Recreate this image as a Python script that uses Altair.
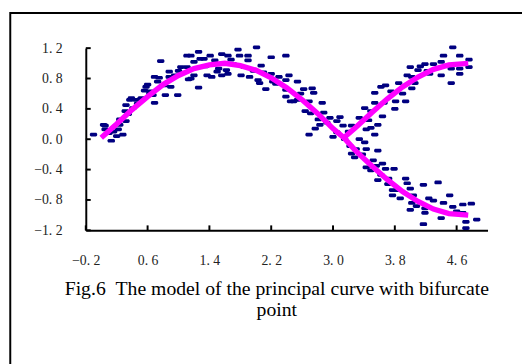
import altair as alt
import pandas as pd

# scatter points
pts_x = [-0.10,0.03,0.05,0.13,0.20,0.28,0.22,0.24,0.32,0.24,0.31,0.32,0.37,0.41,0.45,0.51,0.58,0.63,0.67,0.69,
         0.69,0.77,0.73,0.82,0.83,0.88,0.88,0.90,0.99,1.03,1.05,1.11,1.13,0.05,0.16,0.39,0.52,0.63,0.10,0.35,
         0.47,0.56,0.60,0.75,0.95,1.00,
         1.26,1.16,1.20,1.28,1.41,1.56,1.64,1.77,2.01,1.79,1.90,1.90,2.20,2.39,1.11,1.20,1.16,1.26,1.37,1.43,
         1.52,1.50,1.62,1.64,1.56,1.81,1.92,2.03,2.05,2.13,2.07,2.20,2.22,2.30,2.39,2.39,2.39,2.45,2.43,1.33,
         1.71,1.47,1.35,1.58,1.85,1.97,2.10,2.26,1.68,
         2.54,2.62,2.73,2.75,2.54,2.49,2.69,2.86,2.64,2.71,2.88,2.81,2.83,2.77,2.69,2.92,3.09,3.05,3.13,3.24,
         3.00,3.05,3.15,3.22,3.24,3.28,3.34,3.41,3.43,3.34,3.41,3.43,3.49,3.54,3.58,3.49,3.54,3.64,3.66,3.54,
         3.62,3.68,3.75,3.58,3.43,3.49,3.56,3.64,3.68,3.58,3.71,3.77,3.77,3.30,2.58,2.96,3.20,3.38,3.46,3.62,
         3.52,
         4.55,4.43,4.64,4.76,4.19,4.30,4.40,4.13,4.00,4.10,4.53,4.64,4.76,4.40,4.64,4.53,3.96,4.02,3.85,4.06,
         4.02,3.94,3.81,3.80,4.25,3.90,4.22,4.47,4.70,
         3.79,3.94,3.96,4.00,3.83,3.87,4.17,4.36,4.04,4.02,4.00,4.24,4.30,4.19,4.19,4.43,4.51,4.55,4.68,4.79,
         4.68,4.40,4.17,4.72,4.72,4.86,4.60,4.08,3.72]
pts_y = [0.06,0.19,0.13,-0.02,0.04,0.06,0.13,0.19,0.24,0.26,0.37,0.45,0.52,0.41,0.52,0.53,0.69,0.63,0.58,0.48,
         0.82,1.03,0.76,0.71,0.58,0.89,0.82,0.69,0.58,0.95,0.87,1.10,0.79,0.18,0.10,0.54,0.54,0.60,0.08,0.33,
         0.47,0.64,0.72,0.81,0.84,0.90,
         1.15,1.10,1.02,1.06,1.10,1.12,1.10,1.18,1.21,1.10,1.10,1.04,1.08,1.10,0.95,0.84,0.80,0.68,0.84,0.82,
         0.93,0.89,0.91,0.86,0.84,0.84,0.82,0.78,0.74,0.66,0.97,0.86,0.76,0.82,0.78,0.65,0.56,0.50,0.84,1.06,
         0.99,1.04,0.96,1.00,0.95,0.90,0.88,0.73,1.05,
         0.76,0.66,0.67,0.61,0.52,0.50,0.50,0.48,0.37,0.34,0.35,0.26,0.19,0.14,0.06,0.22,0.29,0.24,0.18,0.18,
         0.03,0.09,0.00,-0.09,-0.19,-0.24,0.00,-0.04,-0.13,0.28,0.41,0.13,0.15,0.06,0.19,0.37,0.48,0.30,0.48,0.61,
         0.69,0.71,0.63,-0.15,-0.37,-0.41,-0.35,-0.32,-0.39,-0.54,-0.59,-0.67,-0.74,-0.13,0.60,0.28,0.10,-0.20,0.25,-0.47,
         -0.28,
         1.21,1.10,1.10,1.05,0.99,0.99,1.02,0.96,0.95,0.91,0.93,0.93,0.95,0.84,0.86,0.74,0.84,0.82,0.74,0.74,
         0.67,0.50,0.50,0.40,0.86,0.60,0.90,0.97,0.99,
         -0.39,-0.52,-0.58,-0.65,-0.67,-0.78,-0.60,-0.57,-0.74,-0.84,-0.93,-0.78,-0.81,-0.91,-0.97,-0.84,-0.74,-0.89,-0.86,-0.85,
         -0.97,-1.04,-1.12,-1.09,-1.17,-1.06,-0.95,-0.88,-0.52]

# principal curve
main_x = [0.0,0.2,0.4,0.6,0.8,1.0,1.2,1.4,1.6,1.8,2.0,2.2,2.4,2.6,2.8,3.0,3.14,3.3,3.5,3.7,3.9,4.1,4.3,4.5,4.75]
main_y = [0.02,0.2,0.39,0.56,0.72,0.84,0.93,0.98,1.0,0.97,0.91,0.81,0.68,0.52,0.34,0.14,0.02,-0.16,-0.35,-0.53,-0.69,-0.82,-0.92,-0.98,-1.0]
branch_x = [3.14,3.3,3.5,3.7,3.9,4.1,4.3,4.5,4.75]
branch_y = [0.02,0.16,0.35,0.53,0.69,0.82,0.92,0.98,1.0]

x_ticks = [-0.2,0.6,1.4,2.2,3.0,3.8,4.6]
y_ticks = [-1.2,-0.8,-0.4,0.0,0.4,0.8,1.2]
caption = "Fig.6\u00a0\u00a0The model of the principal curve with bifurcate\npoint"

W, H = 408, 185
label_expr = "replace(format(datum.value, '.1f'), '.', '. ')"
xscale = alt.Scale(domain=[-0.2, 5.0], nice=False, zero=False)
yscale = alt.Scale(domain=[-1.2, 1.2], nice=False, zero=False)
xaxis = alt.Axis(values=x_ticks, labelExpr=label_expr, ticks=False, grid=False, domainColor="black",
                 domainWidth=2, labelFont="Liberation Serif", labelFontSize=14, labelColor="#222",
                 labelPadding=24, title=None, labelFlush=False)
yaxis = alt.Axis(values=y_ticks, labelExpr=label_expr, ticks=False, grid=False, domainColor="black",
                 domainWidth=2, labelFont="Liberation Serif", labelFontSize=14, labelColor="#222",
                 labelPadding=24, title=None, labelFlush=False)

X = alt.X("x:Q", scale=xscale, axis=xaxis)
Y = alt.Y("y:Q", scale=yscale, axis=yaxis)

pts = pd.DataFrame({"x": pts_x, "y": pts_y})
curve = pd.DataFrame({
    "x": main_x + branch_x,
    "y": main_y + branch_y,
    "b": ["main"] * len(main_x) + ["branch"] * len(branch_x),
    "o": list(range(len(main_x))) + list(range(len(branch_x))),
})

border = alt.Chart(pd.DataFrame({"k": [0]})).mark_rect(filled=False, stroke="black", strokeWidth=2).encode(
    x=alt.value(-76.7), y=alt.value(-35.7), x2=alt.value(480), y2=alt.value(400))

scatter = alt.Chart(pts).mark_tick(orient="horizontal", size=7.5, thickness=3.8, color="#000080",
                                   cornerRadius=1.5, opacity=1).encode(x=X, y=Y)

lines = alt.Chart(curve).mark_line(color="#FF00FF", strokeWidth=5.5, strokeCap="butt").encode(
    x=X, y=Y, detail="b:N", order="o:Q")

xt = alt.Chart(pd.DataFrame({"x": x_ticks})).mark_rule(color="black", strokeWidth=2).encode(
    x=X, y=alt.value(H), y2=alt.value(H - 5))
yt = alt.Chart(pd.DataFrame({"y": y_ticks})).mark_rule(color="black", strokeWidth=2).encode(
    y=Y, x=alt.value(0), x2=alt.value(5))

cap = alt.Chart(pd.DataFrame({"t": [caption]})).mark_text(
    font="Liberation Serif", fontSize=20, color="black", align="center", baseline="alphabetic",
    lineBreak="\n", lineHeight=21).encode(x=alt.value(194), y=alt.value(251), text="t:N")

chart = alt.layer(border, scatter, lines, xt, yt, cap).properties(
    width=W, height=H,
    autosize=alt.AutoSizeParams(type="none"),
    padding={"left": 79, "top": 38, "right": 35, "bottom": 133},
).configure_view(strokeWidth=0)

chart.save("out.html", embed_options={"renderer": "svg", "actions": False})
